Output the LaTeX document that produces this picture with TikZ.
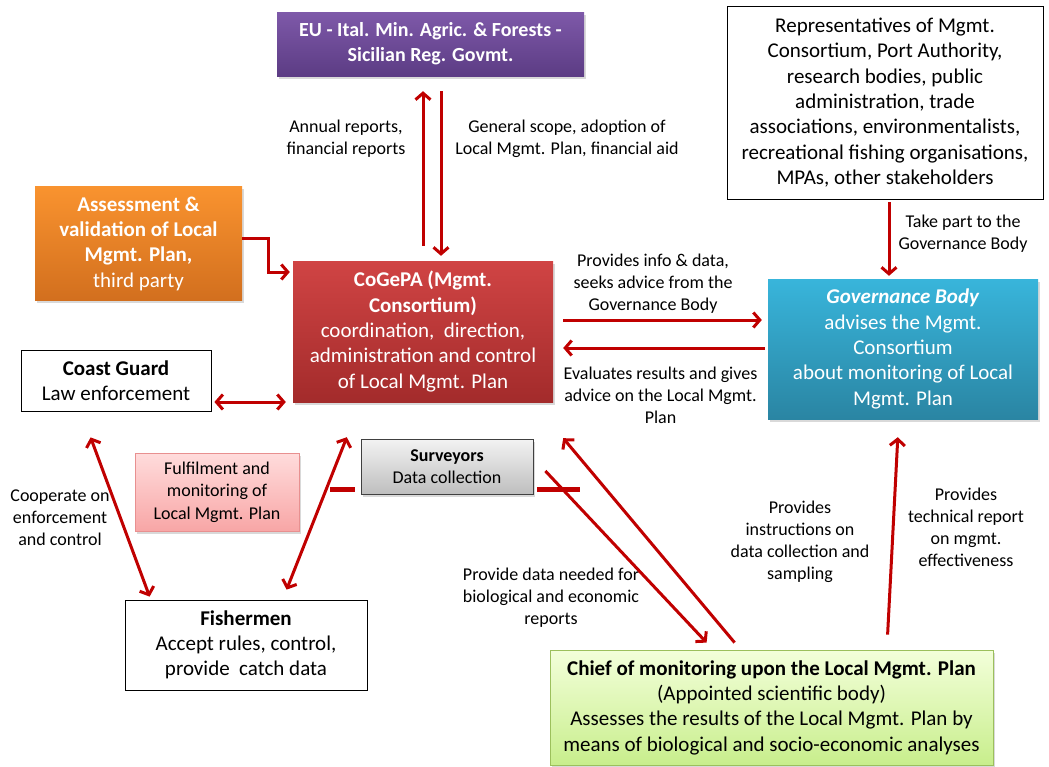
\documentclass[tikz,border=0pt]{standalone}
\usepackage{fontspec}
\setmainfont{Carlito}
\usetikzlibrary{arrows.meta,shadows,calc}
\definecolor{arrred}{HTML}{C00000}
\definecolor{purT}{HTML}{7E59A9}
\definecolor{purB}{HTML}{5C3C84}
\definecolor{oraT}{HTML}{F9932F}
\definecolor{oraB}{HTML}{D26F1E}
\definecolor{redT}{HTML}{D04444}
\definecolor{redB}{HTML}{A32B2B}
\definecolor{bluT}{HTML}{38B5DB}
\definecolor{bluB}{HTML}{2A85A3}
\definecolor{gryT}{HTML}{F3F3F3}
\definecolor{gryB}{HTML}{BEBEBE}
\definecolor{pnkT}{HTML}{FFDCDC}
\definecolor{pnkB}{HTML}{F8A6A6}
\definecolor{pnkD}{HTML}{E89090}
\definecolor{grnT}{HTML}{F3FFDA}
\definecolor{grnB}{HTML}{C8EE8C}
\definecolor{grnD}{HTML}{9CC05C}
\tikzset{
  box/.style={rectangle, align=center, inner sep=2pt, font=\fontsize{21}{25.3}\selectfont},
  sh/.style={drop shadow={shadow xshift=2pt,shadow yshift=-2.5pt,opacity=0.3}},
  wbox/.style={box, draw=black, line width=0.8pt, fill=white},
  lbl/.style={align=center, inner sep=0pt, font=\fontsize{18}{22}\selectfont},
  arr/.style={draw=arrred, line width=3pt, -{Straight Barb[length=6.5pt,width=15pt,line width=3pt]}},
  darr/.style={draw=arrred, line width=3pt, {Straight Barb[length=6.5pt,width=15pt,line width=3pt]}-{Straight Barb[length=6.5pt,width=15pt,line width=3pt]}},
  seg/.style={draw=arrred, line width=4.5pt}
}
\begin{document}
\begin{tikzpicture}[x=1pt,y=-1pt]
\useasboundingbox (0,0) rectangle (1049,766);

% boxes
\node[box, sh, top color=purT, bottom color=purB, text=white, font=\fontsize{20}{25}\selectfont\bfseries,
  minimum width=307, minimum height=64] (eu) at (430.5,44)
  {EU - Ital. Min. Agric. \& Forests -\\Sicilian Reg. Govmt.};
\node[wbox, minimum width=316, minimum height=193] (reps) at (885,102.5)
  {Representatives of Mgmt.\\Consortium, Port Authority,\\research bodies, public\\administration, trade\\associations, environmentalists,\\recreational fishing organisations,\\MPAs, other stakeholders};
\node[box, sh, top color=oraT, bottom color=oraB, text=white, minimum width=207, minimum height=114] (assess) at (138.5,243.5)
  {\textbf{Assessment \&}\\\textbf{validation of Local}\\\textbf{Mgmt. Plan,}\\third party};
\node[box, sh, top color=redT, bottom color=redB, text=white, minimum width=260, minimum height=141] (cogepa) at (423,331.5)
  {\textbf{CoGePA (Mgmt.}\\\textbf{Consortium)}\\coordination,\ \ direction,\\administration and control\\of Local Mgmt. Plan};
\node[box, sh, top color=bluT, bottom color=bluB, text=white, minimum width=270, minimum height=140] (gov) at (903,349)
  {\textbf{\textit{Governance Body}}\\advises the Mgmt.\\Consortium\\about monitoring of Local\\Mgmt. Plan};
\node[wbox, minimum width=190, minimum height=61] (coast) at (116,380.5)
  {\textbf{Coast Guard}\\Law enforcement};
\node[box, sh, draw=black!75, line width=0.8pt, top color=gryT, bottom color=gryB, font=\fontsize{18}{22}\selectfont,
  minimum width=172, minimum height=55] (surv) at (447,466.5)
  {\textbf{Surveyors}\\Data collection};
\node[box, sh, draw=pnkD, line width=0.8pt, top color=pnkT, bottom color=pnkB, font=\fontsize{18}{22.5}\selectfont,
  minimum width=164, minimum height=78] (fulfil) at (217,492)
  {Fulfilment and\\monitoring of\\Local Mgmt. Plan};
\node[wbox, minimum width=242, minimum height=90] (fish) at (246,645)
  {\textbf{Fishermen}\\Accept rules, control,\\provide\ \ catch data};
\node[box, sh, draw=grnD, line width=0.8pt, top color=grnT, bottom color=grnB, minimum width=443, minimum height=115] (chief) at (771.5,707.5)
  {\textbf{Chief of monitoring upon the Local Mgmt. Plan}\\(Appointed scientific body)\\Assesses the results of the Local Mgmt. Plan by\\means of biological and socio-economic analyses};

% labels
\node[lbl] (l1) at (346,139) {Annual reports,\\financial reports};
\node[lbl] (l2) at (567,139) {General scope, adoption of\\Local Mgmt. Plan, financial aid};
\node[lbl] (l3) at (653,284) {Provides info \& data,\\seeks advice from the\\Governance Body};
\node[lbl] (l4) at (660.5,395) {Evaluates results and gives\\advice on the Local Mgmt.\\Plan};
\node[lbl] (l5) at (963,234) {Take part to the\\Governance Body};
\node[lbl] (l6) at (966,527) {Provides\\technical report\\on mgmt.\\effectiveness};
\node[lbl] (l7) at (800,542) {Provides\\instructions on\\data collection and\\sampling};
\node[lbl] (l8) at (551,598) {Provide data needed for\\biological and economic\\reports};
\node[lbl] (l9) at (60,518) {Cooperate on\\enforcement\\and control};

% connectors
\draw[arr, shorten <=15pt, shorten >=15pt] (cogepa.north -| 423,0) -- (eu.south -| 423,0);
\draw[arr, shorten <=15pt, shorten >=5pt] (eu.south -| 441,0) -- (cogepa.north -| 441,0);
\draw[arr, shorten >=3pt] (assess.east |- 0,238) -- ++(26,0) |- (cogepa.west |- 0,272);
\draw[darr, shorten <=3pt, shorten >=7pt] (coast.east |- 0,402) -- (cogepa.west |- 0,402);
\draw[arr, shorten <=10pt, shorten >=6pt] (cogepa.east |- 0,320) -- (gov.west |- 0,320);
\draw[arr, shorten <=3pt, shorten >=10pt] (gov.west |- 0,348) -- (cogepa.east |- 0,348);
\draw[arr, shorten <=3pt, shorten >=3pt] (reps.south -| 889,0) -- (gov.north -| 889,0);
\draw[arr] ($(chief.north west)+(338,-15)$) -- ($(gov.south west)+(130,18)$);
\draw[arr] ($(chief.north west)+(185,-7)$) -- ($(cogepa.south east)+(10,36)$);
\draw[arr] ($(surv.east)+(12,4.5)$) -- ($(chief.north west)+(157,-7)$);
\draw[darr] ($(cogepa.south west)+(54,35)$) -- ($(fish.north west)+(162,-10)$);
\draw[darr] ($(coast.south west)+(70,26)$) -- ($(fish.north west)+(25,-3)$);
\draw[seg] ($(surv.south west)+(-6,-5)$) -- ++(-25,0);
\draw[seg] ($(surv.south east)+(4,-5)$) -- ++(43,0);
\end{tikzpicture}
\end{document}
